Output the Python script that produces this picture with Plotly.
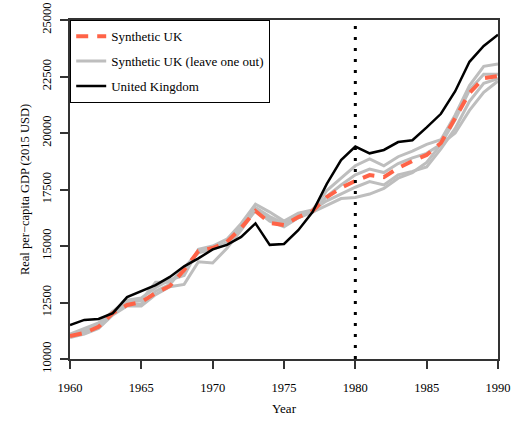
import plotly.graph_objects as go

years = list(range(1960, 1991))

uk = [11500, 11730, 11770, 12030, 12740, 13000, 13270, 13630, 14100, 14450,
      14850, 15050, 15400, 16000, 15050, 15090, 15700, 16500, 17750, 18800,
      19400, 19100, 19250, 19600, 19680, 20250, 20850, 21850, 23150, 23850,
      24350]

synth_uk = [11020, 11150, 11420, 12030, 12390, 12520, 12920, 13230, 13940, 14780,
            14910, 15180, 15800, 16550, 16020, 15930, 16280, 16550, 17170, 17570,
            17880, 18140, 18050, 18450, 18760, 19030, 19560, 20710, 21770, 22430,
            22520]

loo_1 = [11100, 11350, 11600, 12100, 12600, 12700, 13150, 13500, 13700, 14850,
         15000, 15300, 16000, 16850, 16500, 16100, 16450, 16600, 17450, 18000,
         18550, 18850, 18550, 18950, 19200, 19500, 19700, 20800, 22100, 22950,
         23050]
loo_2 = [11000, 11200, 11500, 12000, 12400, 12450, 13000, 13300, 14050, 14700,
         14850, 15100, 15850, 16700, 16300, 16000, 16350, 16500, 17200, 17700,
         18150, 18400, 18250, 18650, 18900, 19100, 19500, 20600, 21900, 22600,
         22600]
loo_3 = [10950, 11100, 11350, 11950, 12350, 12350, 12850, 13200, 13300, 14300,
         14250, 14900, 15700, 16600, 16100, 15850, 16250, 16600, 17000, 17300,
         17600, 17850, 17700, 18150, 18300, 18500, 19300, 20200, 21400, 22200,
         22400]
loo_4 = [11050, 11250, 11450, 12100, 12500, 12600, 13400, 13400, 14000, 14750,
         14900, 15150, 15850, 16550, 16200, 15900, 16250, 16500, 16800, 17100,
         17150, 17300, 17550, 18000, 18250, 18700, 19500, 20000, 21000, 21800,
         22300]
loo_series = [loo_1, loo_2, loo_3, loo_4]

treatment_year = 1980
x_ticks = [1960, 1965, 1970, 1975, 1980, 1985, 1990]
y_ticks = [10000, 12500, 15000, 17500, 20000, 22500, 25000]

FONT = "Liberation Serif"
GRAY = "#BEBEBE"
RED = "#FF6347"

fig = go.Figure()

for i, s in enumerate(loo_series):
    fig.add_trace(go.Scatter(
        x=years, y=s, mode="lines",
        line=dict(color=GRAY, width=3),
        name="Synthetic UK (leave one out)",
        legendgroup="loo", showlegend=(i == 0), legendrank=2,
    ))

fig.add_trace(go.Scatter(
    x=years, y=synth_uk, mode="lines",
    line=dict(color=RED, width=4, dash="12px,9px"),
    name="Synthetic UK", legendgroup="synth", legendrank=1,
))

fig.add_trace(go.Scatter(
    x=years, y=uk, mode="lines",
    line=dict(color="black", width=2.5),
    name="United Kingdom", legendgroup="uk", legendrank=3,
))

fig.add_shape(type="line", xref="x", yref="y",
              x0=treatment_year, x1=treatment_year, y0=10000, y1=25000,
              line=dict(color="black", width=3, dash="3px,8px"))

fig.update_layout(
    width=513, height=423,
    margin=dict(l=70, r=15, t=20, b=64, autoexpand=False),
    paper_bgcolor="white", plot_bgcolor="white",
    font=dict(family=FONT, size=12, color="black"),
    showlegend=True,
    legend=dict(
        x=0, y=1, xanchor="left", yanchor="top",
        bordercolor="black", borderwidth=1.2, bgcolor="white",
        font=dict(family=FONT, size=13),
        itemwidth=30, tracegroupgap=5,
        traceorder="grouped",
    ),
)

fig.update_xaxes(
    range=[1960, 1990], tickvals=x_ticks,
    showgrid=False, zeroline=False, automargin=False,
    showline=True, linecolor="#333333", linewidth=1.5, mirror=True,
    ticks="outside", ticklen=8, tickcolor="#333333", tickwidth=1.5,
    ticklabelstandoff=8,
    title=dict(text="Year", standoff=10, font=dict(family=FONT, size=13)),
    tickfont=dict(family=FONT, size=12.5),
)
fig.update_yaxes(
    range=[10000, 25000], tickvals=y_ticks, tickformat="d",
    showgrid=False, zeroline=False, automargin=False,
    showline=True, linecolor="#333333", linewidth=1.5, mirror=True,
    ticks="outside", ticklen=8, tickcolor="#333333", tickwidth=1.5,
    tickangle=-90, ticklabelstandoff=4,
    title=dict(text="Real per\u2212capita GDP (2015 USD)", standoff=8,
               font=dict(family=FONT, size=12.5)),
    tickfont=dict(family=FONT, size=12.5),
)

fig.write_html("out.html")
